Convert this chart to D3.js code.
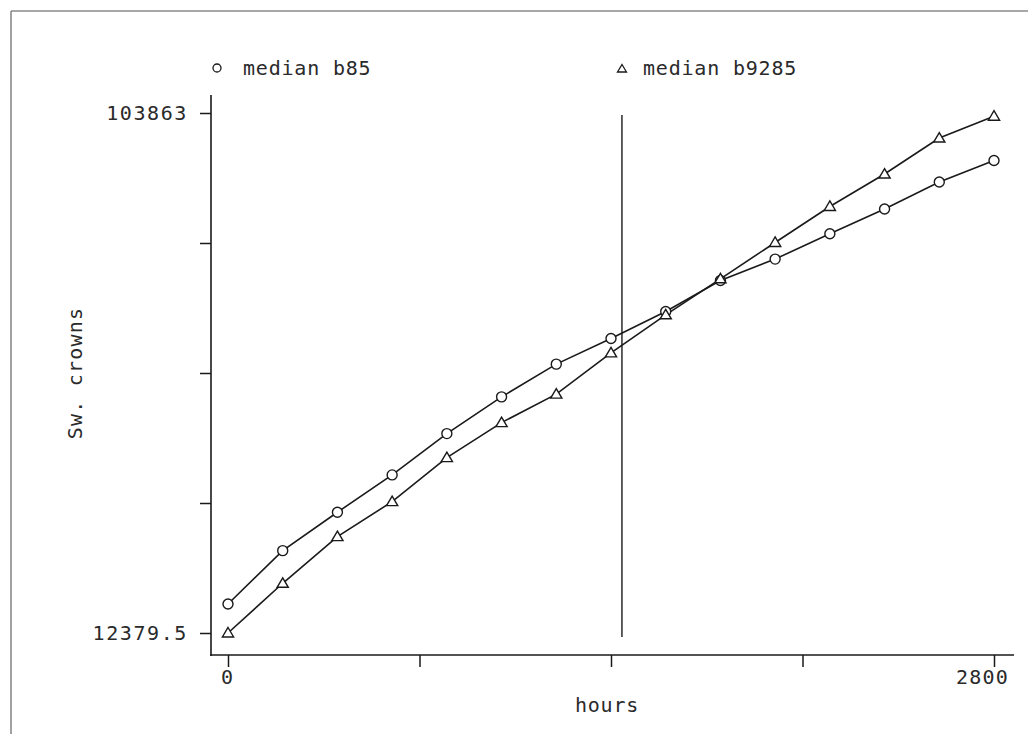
<!DOCTYPE html>
<html>
<head>
<meta charset="utf-8">
<script src="https://cdn.jsdelivr.net/npm/d3@7"></script>
<style>
  html, body { margin: 0; padding: 0; background: #fff; }
  svg { display: block; }
  text { font-family: "DejaVu Sans Mono", "Liberation Mono", monospace; fill: #2a2a2a; }
</style>
</head>
<body>
<svg id="chart" width="1028" height="734"></svg>
<script>
// ---- data ----
const hours = [0, 200, 400, 600, 800, 1000, 1200, 1400, 1600, 1800, 2000, 2200, 2400, 2600, 2800];
const medianB85 = [17485, 26867, 33626, 40192, 47462, 53922, 59679, 64203, 68937, 74394, 78162, 82616, 86963, 91716, 95519];
const medianB9285 = [12379.5, 21128, 29331, 35492, 43237, 49399, 54398, 61668, 68357, 74694, 81084, 87421, 93124, 99461, 103300];
const seriesNames = ["median b85", "median b9285"];
const yTickLabels = ["12379.5", "", "", "", "103863"];
const yDomain = [12379.5, 103863];
const xTickValues = [0, 700, 1400, 2100, 2800];
const xTickLabels = ["0", "", "", "", "2800"];
const referenceHour = 1440;
const xTitle = "hours";
const yTitle = "Sw. crowns";

// ---- drawing ----
const svg = d3.select("#chart");
const ink = "#1a1a1a";
const textInk = "#2a2a2a";

// scanned page border (top & left)
svg.append("line").attr("x1", 11).attr("y1", 11).attr("x2", 1028).attr("y2", 11)
  .attr("stroke", "#8a8a8a").attr("stroke-width", 1.6);
svg.append("line").attr("x1", 11).attr("y1", 11).attr("x2", 11).attr("y2", 734)
  .attr("stroke", "#8a8a8a").attr("stroke-width", 1.6);

const x = d3.scaleLinear().domain([0, 2800]).range([228, 994]);
const y = d3.scaleLinear().domain(yDomain).range([633, 113]);

const yTickValues = d3.range(5).map(i => yDomain[0] + (yDomain[1] - yDomain[0]) * i / 4);

// Y axis
const yAxisX = 211;
const yAxis = d3.axisLeft(y).tickValues(yTickValues)
  .tickFormat((d, i) => yTickLabels[i]).tickSize(11).tickPadding(12);
const gy = svg.append("g").attr("transform", `translate(${yAxisX},0)`).call(yAxis);
gy.select(".domain").remove();
gy.append("line").attr("x1", 0).attr("x2", 0).attr("y1", 95).attr("y2", 656)
  .attr("stroke", ink).attr("stroke-width", 1.6);
gy.selectAll(".tick line").attr("stroke", ink).attr("stroke-width", 1.5);
gy.selectAll(".tick text").attr("font-size", 20).attr("letter-spacing", 1.6)
  .attr("fill", textInk).style("font-family", "'DejaVu Sans Mono', monospace");

// X axis
const xAxisY = 655;
const xAxis = d3.axisBottom(x).tickValues(xTickValues)
  .tickFormat((d, i) => xTickLabels[i]).tickSize(12).tickPadding(3);
const gx = svg.append("g").attr("transform", `translate(0,${xAxisY})`).call(xAxis);
gx.select(".domain").remove();
gx.append("line").attr("x1", 210).attr("x2", 1014).attr("y1", 0).attr("y2", 0)
  .attr("stroke", ink).attr("stroke-width", 1.6);
gx.selectAll(".tick line").attr("stroke", ink).attr("stroke-width", 1.5);
gx.selectAll(".tick text").attr("font-size", 20).attr("letter-spacing", 1.2)
  .attr("fill", textInk).style("font-family", "'DejaVu Sans Mono', monospace")
  .attr("dx", (d, i) => i === xTickLabels.length - 1 ? -12 : -1);

// axis titles
svg.append("text").attr("x", 607).attr("y", 712).attr("text-anchor", "middle")
  .attr("font-size", 20).attr("letter-spacing", 0.8).text(xTitle);
svg.append("text").attr("transform", "translate(82,373) rotate(-90)")
  .attr("text-anchor", "middle").attr("font-size", 20).attr("letter-spacing", 1.2).text(yTitle);

// reference vertical line
svg.append("line").attr("x1", x(referenceHour)).attr("x2", x(referenceHour))
  .attr("y1", y(yDomain[1]) + 2).attr("y2", y(yDomain[0]) + 4)
  .attr("stroke", ink).attr("stroke-width", 1.4);

// series
const triPath = "M0,-5.5L5.6,4L-5.6,4Z";
const series = [
  { name: seriesNames[0], values: medianB85, marker: "circle" },
  { name: seriesNames[1], values: medianB9285, marker: "triangle" }
];
const line = d3.line().x(d => x(d[0])).y(d => y(d[1]));

series.forEach(s => {
  const pts = hours.map((h, i) => [h, s.values[i]]);
  svg.append("path").datum(pts).attr("d", line)
    .attr("fill", "none").attr("stroke", ink).attr("stroke-width", 1.6);
});
series.forEach(s => {
  const pts = hours.map((h, i) => [h, s.values[i]]);
  const g = svg.append("g");
  if (s.marker === "circle") {
    g.selectAll("circle").data(pts).join("circle")
      .attr("cx", d => x(d[0])).attr("cy", d => y(d[1])).attr("r", 5)
      .attr("fill", "#fff").attr("stroke", ink).attr("stroke-width", 1.4);
  } else {
    g.selectAll("path").data(pts).join("path")
      .attr("transform", d => `translate(${x(d[0])},${y(d[1])})`)
      .attr("d", triPath)
      .attr("fill", "#fff").attr("stroke", ink).attr("stroke-width", 1.4);
  }
});

// legend
const legend = [
  { name: seriesNames[0], marker: "circle", x: 217, tx: 243 },
  { name: seriesNames[1], marker: "triangle", x: 622, tx: 643 }
];
legend.forEach(l => {
  if (l.marker === "circle") {
    svg.append("circle").attr("cx", l.x).attr("cy", 68).attr("r", 4)
      .attr("fill", "none").attr("stroke", ink).attr("stroke-width", 1.3);
  } else {
    svg.append("path").attr("transform", `translate(${l.x},69)`)
      .attr("d", "M0,-4.5L4.5,3L-4.5,3Z")
      .attr("fill", "none").attr("stroke", ink).attr("stroke-width", 1.3);
  }
  svg.append("text").attr("x", l.tx).attr("y", 75).attr("font-size", 20)
    .attr("letter-spacing", 0.8).text(l.name);
});
</script>
</body>
</html>
